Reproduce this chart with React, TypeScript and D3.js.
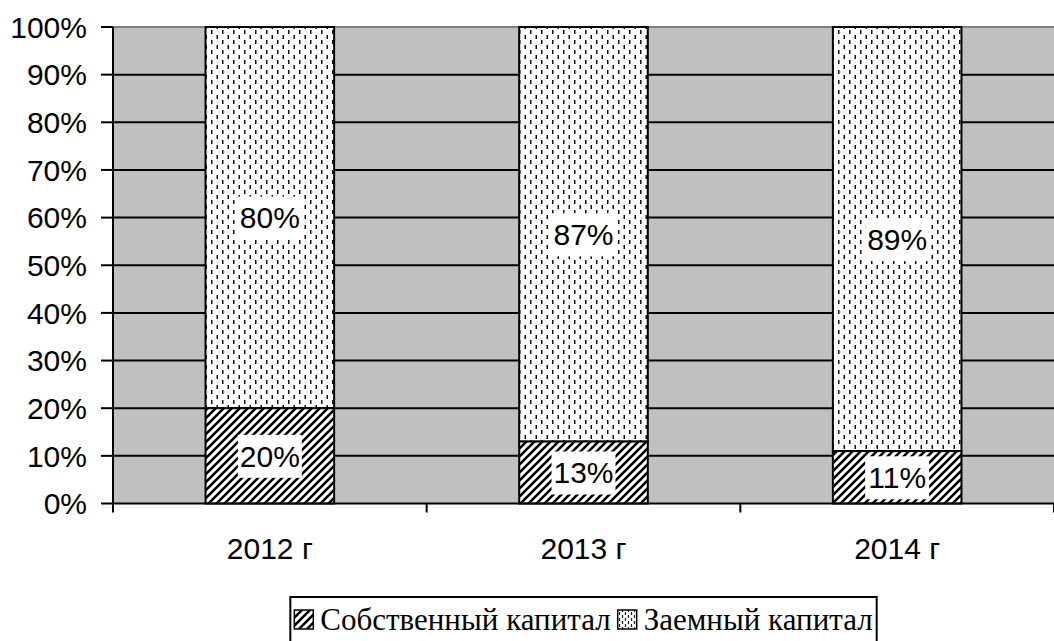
import React, { useEffect, useRef } from "react";
import * as d3 from "d3";

const categories = ["2012 г", "2013 г", "2014 г"];
const ownCapital = [20, 13, 11];
const borrowedCapital = [80, 87, 89];
const yTicks = [0, 10, 20, 30, 40, 50, 60, 70, 80, 90, 100];
const seriesNames = ["Собственный капитал", "Заемный капитал"];

const W = 1054;
const H = 641;
const M = { left: 113, right: 1054, top: 27, bottom: 503.5 };

export default function App() {
  const legendRef = useRef<SVGGElement>(null);

  const x = d3.scaleBand<string>().domain(categories).range([M.left, M.right]).padding(0);
  const y = d3.scaleLinear().domain([0, 100]).range([M.bottom, M.top]);
  const barW = x.bandwidth() * 0.41;
  const font = "Arial, 'Liberation Sans', sans-serif";

  useEffect(() => {
    const g = d3.select(legendRef.current);
    if (!g.node()) return;
    const texts = g.selectAll<SVGTextElement, unknown>("text").nodes();
    const w0 = texts[0].getComputedTextLength();
    const w1 = texts[1].getComputedTextLength();
    const mk = 19, gap = 7, sep = 7, pad = 4;
    const total = pad + mk + gap + w0 + sep + mk + gap + w1 + pad;
    const cx = (M.left + M.right) / 2;
    const x0 = cx - total / 2;
    g.select("rect.box").attr("x", x0).attr("width", total);
    let cur = x0 + pad;
    g.select("rect.m0").attr("x", cur);
    cur += mk + gap;
    d3.select(texts[0]).attr("x", cur);
    cur += w0 + sep;
    g.select("rect.m1").attr("x", cur);
    cur += mk + gap;
    d3.select(texts[1]).attr("x", cur);
  }, []);

  return (
    <svg width={W} height={H} style={{ position: "absolute", left: 0, top: 0, background: "#fff" }}>
      <defs>
        <pattern id="hatch" patternUnits="userSpaceOnUse" width="8" height="8">
          <rect width="8" height="8" fill="#fff" />
          <path d="M-2,2 L2,-2 M0,8 L8,0 M6,10 L10,6" stroke="#000" strokeWidth="2.6" />
        </pattern>
        <pattern id="dash" patternUnits="userSpaceOnUse" width="11" height="10">
          <rect width="11" height="10" fill="#fff" />
          <rect x="2" y="0" width="1.5" height="4" fill="#111" />
          <rect x="7.5" y="5" width="1.5" height="4" fill="#111" />
        </pattern>
        <pattern id="dashL" patternUnits="userSpaceOnUse" width="6" height="6">
          <rect width="6" height="6" fill="#fff" />
          <line x1="1.5" y1="0" x2="1.5" y2="3" stroke="#222" strokeWidth="1.3" />
          <line x1="4.5" y1="3" x2="4.5" y2="6" stroke="#222" strokeWidth="1.3" />
        </pattern>
      </defs>

      {/* plot area */}
      <rect x={M.left} y={M.top} width={M.right - M.left} height={M.bottom - M.top} fill="#C0C0C0" />
      <line x1={M.left} x2={M.right} y1={M.top} y2={M.top} stroke="#808080" strokeWidth={2} />

      {/* gridlines */}
      {yTicks.filter((t) => t > 0 && t < 100).map((t) => (
        <line key={t} x1={M.left} x2={M.right} y1={y(t)} y2={y(t)} stroke="#000" strokeWidth={2} />
      ))}

      {/* bars */}
      {categories.map((c, i) => {
        const cx = (x(c) as number) + x.bandwidth() / 2;
        const bx = cx - barW / 2;
        const a = ownCapital[i];
        const b = borrowedCapital[i];
        return (
          <g key={c}>
            <rect x={bx} y={y(a + b)} width={barW} height={y(a) - y(a + b)} fill="url(#dash)" stroke="#000" strokeWidth={2} />
            <rect x={bx} y={y(a)} width={barW} height={y(0) - y(a)} fill="url(#hatch)" stroke="#000" strokeWidth={2} />
          </g>
        );
      })}

      {/* data labels */}
      {categories.map((c, i) => {
        const cx = (x(c) as number) + x.bandwidth() / 2;
        const a = ownCapital[i];
        const b = borrowedCapital[i];
        const items = [
          { v: a, yc: y(a / 2) },
          { v: b, yc: y(a + b / 2) },
        ];
        return items.map((it, j) => {
          const label = `${it.v}%`;
          const tw = label.length === 3 ? 60 : 75;
          return (
            <g key={c + j}>
              <rect x={cx - tw / 2 - 2} y={it.yc - 21} width={tw + 4} height={43} fill="#fff" />
              <text x={cx} y={it.yc} dy="0.36em" textAnchor="middle" fontFamily={font} fontSize={30} fill="#000">
                {label}
              </text>
            </g>
          );
        });
      })}

      {/* axes */}
      <line x1={M.left} x2={M.left} y1={M.top} y2={M.bottom + 9} stroke="#000" strokeWidth={2} />
      <line x1={M.left} x2={M.right} y1={M.bottom} y2={M.bottom} stroke="#000" strokeWidth={2} />
      {yTicks.map((t) => (
        <g key={t}>
          <line x1={M.left - 12} x2={M.left} y1={y(t)} y2={y(t)} stroke="#000" strokeWidth={2} />
          <text x={87} y={y(t)} dy="0.36em" textAnchor="end" fontFamily={font} fontSize={30} fill="#000">
            {t}%
          </text>
        </g>
      ))}
      {categories.map((c, i) => (
        <line key={"t" + i} x1={(x(c) as number) + x.bandwidth()} x2={(x(c) as number) + x.bandwidth()} y1={M.bottom} y2={M.bottom + 9} stroke="#000" strokeWidth={2} />
      ))}
      {categories.map((c) => (
        <text key={"l" + c} x={(x(c) as number) + x.bandwidth() / 2} y={559} textAnchor="middle" fontFamily={font} fontSize={30} fill="#000">
          {c}
        </text>
      ))}

      {/* legend */}
      <g ref={legendRef}>
        <rect className="box" x={300} y={597} width={570} height={70} fill="#fff" stroke="#000" strokeWidth={2} />
        <rect className="m0" x={305} y={610} width={19} height={19} fill="url(#hatch)" stroke="#000" strokeWidth={1.5} />
        <text x={330} y={630} fontFamily="'Liberation Serif', 'Times New Roman', serif" fontSize={31} fill="#000">
          {seriesNames[0]}
        </text>
        <rect className="m1" x={622} y={610} width={19} height={19} fill="url(#dashL)" stroke="#000" strokeWidth={1.5} />
        <text x={648} y={630} fontFamily="'Liberation Serif', 'Times New Roman', serif" fontSize={31} fill="#000">
          {seriesNames[1]}
        </text>
      </g>
    </svg>
  );
}
